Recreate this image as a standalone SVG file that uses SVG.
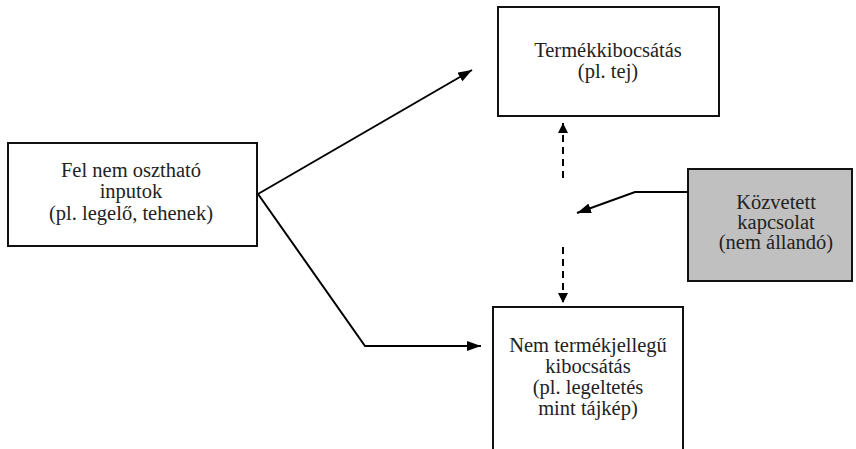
<svg xmlns="http://www.w3.org/2000/svg" width="856" height="449" viewBox="0 0 856 449">
<style>
.box{fill:#fff;stroke:#111;stroke-width:2}
.gray{fill:#c0c0c0;stroke:#111;stroke-width:2}
.t{font-size:20.5px;fill:#222;text-anchor:middle}
.ln{fill:none;stroke:#000;stroke-width:2}
.dash{stroke-dasharray:7,5}
</style>
<defs>
<marker id="ah" viewBox="0 0 10 10" refX="10" refY="5" markerWidth="10" markerHeight="10" markerUnits="userSpaceOnUse" orient="auto">
<path d="M0,0 L10,5 L0,10 z" fill="#000"/>
</marker>
<marker id="ahL" viewBox="0 0 14 10" refX="14" refY="5" markerWidth="14" markerHeight="10" markerUnits="userSpaceOnUse" orient="auto">
<path d="M0,0 L14,5 L0,10 z" fill="#000"/>
</marker>
</defs>
<g font-family="'Liberation Serif', 'Times New Roman', 'DejaVu Serif', serif">
<g id="inputs">
<rect class="box" x="8" y="143" width="249" height="103"/>
<text class="t" x="131" y="177">Fel nem osztható</text>
<text class="t" x="131" y="198">inputok</text>
<text class="t" x="131" y="220">(pl. legelő, tehenek)</text>
</g>
<g id="product">
<rect class="box" x="498" y="7" width="221" height="109"/>
<text class="t" x="608" y="57">Termékkibocsátás</text>
<text class="t" x="608" y="78">(pl. tej)</text>
</g>
<g id="indirect">
<rect class="gray" x="688" y="169" width="164" height="112"/>
<text class="t" x="776" y="209">Közvetett</text>
<text class="t" x="776" y="229">kapcsolat</text>
<text class="t" x="776" y="249">(nem állandó)</text>
</g>
<g id="nonproduct">
<rect class="box" x="493" y="307" width="190" height="150"/>
<text class="t" x="588" y="352">Nem termékjellegű</text>
<text class="t" x="588" y="373">kibocsátás</text>
<text class="t" x="588" y="394">(pl. legeltetés</text>
<text class="t" x="588" y="415">mint tájkép)</text>
</g>
</g>
<g id="connectors">
<path class="ln" d="M258,194 L472,70" marker-end="url(#ahL)"/>
<path class="ln" d="M258,194 L365,346 L481,346" marker-end="url(#ahL)"/>
<path class="ln dash" d="M563,178 L563,123" marker-end="url(#ah)"/>
<path class="ln dash" d="M563,247 L563,303" marker-end="url(#ah)"/>
<path class="ln" d="M688,192 L635,192 L577,213" marker-end="url(#ahL)"/>
</g>
</svg>
